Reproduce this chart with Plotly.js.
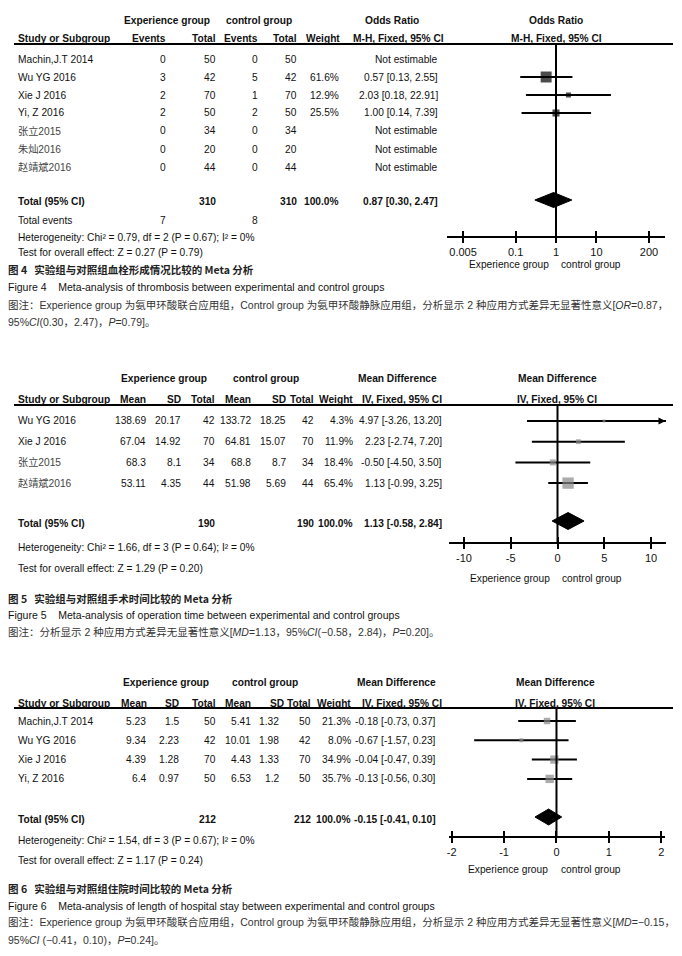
<!DOCTYPE html>
<html><head><meta charset="utf-8">
<script src="https://cdn.plot.ly/plotly-3.0.1.min.js"></script>
<style>html,body{margin:0;padding:0;background:#fff}#c{width:682px;height:956px}</style>
</head><body><div id="c"></div>
<script>
// ---------- Figure 4 data (thrombosis, odds ratio) ----------
const studies4 = ["Machin,J.T 2014","Wu YG 2016","Xie J 2016","Yi, Z 2016","张立2015","朱灿2016","赵靖斌2016"];
const expEvents4 = [0,3,2,2,0,0,0];
const expTotal4  = [50,42,70,50,34,20,44];
const ctlEvents4 = [0,5,1,2,0,0,0];
const ctlTotal4  = [50,42,70,50,34,20,44];
const weight4 = [null,61.6,12.9,25.5,null,null,null];
const est4 = [null,0.57,2.03,1.00,null,null,null];
const lo4  = [null,0.13,0.18,0.14,null,null,null];
const hi4  = [null,2.55,22.91,7.39,null,null,null];
const total4 = {exp:310, ctl:310, w:100.0, est:0.87, lo:0.30, hi:2.47, ev1:7, ev2:8};
const het4 = "Heterogeneity: Chi² = 0.79, df = 2 (P = 0.67); I² = 0%";
const test4 = "Test for overall effect: Z = 0.27 (P = 0.79)";
const ticks4 = [0.005,0.1,1,10,200];
const tickText4 = ["0.005","0.1","1","10","200"];

// ---------- Figure 5 data (operation time, mean difference) ----------
const studies5 = ["Wu YG 2016","Xie J 2016","张立2015","赵靖斌2016"];
const expMean5 = ["138.69","67.04","68.3","53.11"];
const expSD5   = ["20.17","14.92","8.1","4.35"];
const expN5    = [42,70,34,44];
const ctlMean5 = ["133.72","64.81","68.8","51.98"];
const ctlSD5   = ["18.25","15.07","8.7","5.69"];
const ctlN5    = [42,70,34,44];
const weight5 = [4.3,11.9,18.4,65.4];
const est5 = [4.97,2.23,-0.50,1.13];
const lo5  = [-3.26,-2.74,-4.50,-0.99];
const hi5  = [13.20,7.20,3.50,3.25];
const total5 = {exp:190, ctl:190, w:100.0, est:1.13, lo:-0.58, hi:2.84};
const het5 = "Heterogeneity: Chi² = 1.66, df = 3 (P = 0.64); I² = 0%";
const test5 = "Test for overall effect: Z = 1.29 (P = 0.20)";
const ticks5 = [-10,-5,0,5,10];

// ---------- Figure 6 data (hospital stay, mean difference) ----------
const studies6 = ["Machin,J.T 2014","Wu YG 2016","Xie J 2016","Yi, Z 2016"];
const expMean6 = ["5.23","9.34","4.39","6.4"];
const expSD6   = ["1.5","2.23","1.28","0.97"];
const expN6    = [50,42,70,50];
const ctlMean6 = ["5.41","10.01","4.43","6.53"];
const ctlSD6   = ["1.32","1.98","1.33","1.2"];
const ctlN6    = [50,42,70,50];
const weight6 = [21.3,8.0,34.9,35.7];
const est6 = [-0.18,-0.67,-0.04,-0.13];
const lo6  = [-0.73,-1.57,-0.47,-0.56];
const hi6  = [0.37,0.23,0.39,0.30];
const total6 = {exp:212, ctl:212, w:100.0, est:-0.15, lo:-0.41, hi:0.10};
const het6 = "Heterogeneity: Chi² = 1.54, df = 3 (P = 0.67); I² = 0%";
const test6 = "Test for overall effect: Z = 1.17 (P = 0.24)";
const ticks6 = [-2,-1,0,1,2];

// ---------- captions ----------
const cap4 = ["图 4\u00a0\u00a0\u00a0实验组与对照组血栓形成情况比较的 Meta 分析",
  "Figure 4\u00a0\u00a0\u00a0\u00a0Meta-analysis of thrombosis between experimental and control groups",
  "图注：Experience group 为氨甲环酸联合应用组，Control group 为氨甲环酸静脉应用组，分析显示 2 种应用方式差异无显著性意义[<i>OR</i>=0.87，",
  "95%<i>CI</i>(0.30，2.47)，<i>P</i>=0.79]。"];
const cap5 = ["图 5\u00a0\u00a0\u00a0实验组与对照组手术时间比较的 Meta 分析",
  "Figure 5\u00a0\u00a0\u00a0\u00a0Meta-analysis of operation time between experimental and control groups",
  "图注：分析显示 2 种应用方式差异无显著性意义[<i>MD</i>=1.13，95%<i>CI</i>(−0.58，2.84)，<i>P</i>=0.20]。"];
const cap6 = ["图 6\u00a0\u00a0\u00a0实验组与对照组住院时间比较的 Meta 分析",
  "Figure 6\u00a0\u00a0\u00a0\u00a0Meta-analysis of length of hospital stay between experimental and control groups",
  "图注：Experience group 为氨甲环酸联合应用组，Control group 为氨甲环酸静脉应用组，分析显示 2 种应用方式差异无显著性意义[<i>MD</i>=−0.15，",
  "95%<i>CI</i> (−0.41，0.10)，<i>P</i>=0.24]。"];

// ---------- layout helpers ----------
const W = 682, H = 956;
const FT = "Liberation Sans, Arial, Noto Sans CJK SC, sans-serif";
const FS = 10.2;
const FC = "Liberation Sans, Arial, Noto Sans CJK SC, sans-serif";
const ann = [];
function T(text, x, y, anchor, o) {
  o = o || {};
  ann.push({xref:'paper', yref:'paper', x:x/W, y:1-y/H, xanchor:anchor||'left', yanchor:'middle',
    text:String(text), showarrow:false, borderpad:0,
    font:{family:o.family||FT, size:o.size||FS, color:o.color||'#111', weight:o.bold?'bold':'normal'}});
}
const B = {bold:true};
const CJ = {color:'#444'};
const CAPT = {family:"Noto Sans CJK SC, sans-serif", size:10.5, bold:true, color:'#222'};
const shapes = [];
function hline(y){ shapes.push({type:'line', xref:'paper', yref:'paper', x0:14/W, x1:673/W, y0:1-y/H, y1:1-y/H, line:{color:'#000', width:2}}); }
const fmt2 = v => v.toFixed(2);
const ciText = (e,l,h) => fmt2(e)+' ['+fmt2(l)+', '+fmt2(h)+']';
const sizeOf = w => 1.4*Math.sqrt(w);
const isCJK = s => /[\u4e00-\u9fff]/.test(s);

const traces = [];
const layout = {width:W, height:H, margin:{l:0,r:0,t:0,b:0}, paper_bgcolor:'#fff', plot_bgcolor:'rgba(0,0,0,0)',
  showlegend:false, annotations:ann, shapes:shapes};

function axisPair(id, dom, yTop, yBot, xr, tickvals, ticktext, type) {
  const xa = {domain:[dom[0]/W, dom[1]/W], anchor:'y'+id, range:xr, type:type||'linear',
    tickvals:tickvals, ticktext:ticktext, showline:true, linewidth:2, linecolor:'#000',
    ticks:'outside', ticklen:5, tickwidth:2, tickcolor:'#000', showgrid:false, zeroline:false,
    tickfont:{family:FT, size:11, color:'#111'}, fixedrange:true};
  const xo = {overlaying:'x'+id, anchor:'y'+id, range:xr, type:type||'linear', tickvals:tickvals,
    ticks:'inside', ticklen:5, tickwidth:2, tickcolor:'#000', showticklabels:false, showline:false,
    showgrid:false, zeroline:false, fixedrange:true};
  const ya = {domain:[1-yBot/H, 1-yTop/H], range:[yBot, yTop], visible:false, fixedrange:true};
  return [xa, xo, ya];
}

function forest(cfg) {
  const xs=[], ys=[], ep=[], em=[], sz=[];
  cfg.est.forEach((e,i)=>{ if(e===null) return; xs.push(e); ys.push(cfg.rows[i]);
    ep.push(cfg.hi[i]-e); em.push(e-cfg.lo[i]); sz.push(sizeOf(cfg.w[i])); });
  traces.push({type:'scatter', mode:'lines', x:[cfg.nullv,cfg.nullv], y:[cfg.yTop,cfg.yBot],
    xaxis:'x'+cfg.oid, yaxis:'y'+cfg.id, line:{color:'#000', width:2}, hoverinfo:'skip'});
  traces.push({type:'scatter', mode:'markers', x:xs, y:ys, xaxis:'x'+cfg.id, yaxis:'y'+cfg.id,
    marker:{symbol:'square', size:sz, color:cfg.color, line:{width:0}},
    error_x:{type:'data', symmetric:false, array:ep, arrayminus:em, width:0, thickness:cfg.th||1.8, color:'#000'},
    hoverinfo:'skip'});
  const t = cfg.total, yt = cfg.ytot, h = cfg.dh;
  traces.push({type:'scatter', mode:'lines', x:[t.lo,t.est,t.hi,t.est,t.lo], y:[yt,yt-h,yt,yt+h,yt],
    xaxis:'x'+cfg.id, yaxis:'y'+cfg.id, fill:'toself', fillcolor:'#000', line:{color:'#000', width:1},
    hoverinfo:'skip'});
}

// ================= FIGURE 4 =================
{
  const rows = studies4.map((s,i)=>59+i*18);
  T("Experience group",167,21,'center',B); T("control group",259,21,'center',B);
  T("Odds Ratio",392,21,'center',B); T("Odds Ratio",556,21,'center',B);
  T("Study or Subgroup",17,38,'left',B); T("Events",167,38,'right',B); T("Total",217,38,'right',B);
  T("Events",259,38,'right',B); T("Total",298,38,'right',B); T("Weight",341,38,'right',B);
  T("M-H, Fixed, 95% CI",398,38,'center',B); T("M-H, Fixed, 95% CI",556,38,'center',B);
  hline(44);
  studies4.forEach((s,i)=>{
    const y=rows[i];
    T(s,17,y,'left',isCJK(s)?CJ:{}); T(expEvents4[i],167,y,'right'); T(expTotal4[i],217,y,'right');
    T(ctlEvents4[i],259,y,'right'); T(ctlTotal4[i],298,y,'right');
    if(weight4[i]!==null) T(weight4[i].toFixed(1)+'%',340,y,'right');
    T(est4[i]===null?'Not estimable':ciText(est4[i],lo4[i],hi4[i]),439,y,'right');
  });
  const yt=202;
  T("Total (95% CI)",17,yt,'left',B); T(total4.exp,217,yt,'right',B); T(total4.ctl,298,yt,'right',B);
  T(total4.w.toFixed(1)+'%',340,yt,'right',B); T(ciText(total4.est,total4.lo,total4.hi),439,yt,'right',B);
  T("Total events",17,221,'left'); T(total4.ev1,167,221,'right'); T(total4.ev2,259,221,'right');
  T(het4,17,237,'left'); T(test4,17,252,'left');
  T("Experience group",550,265,'right'); T("control group",560,265,'left');
  const [xa,xo,ya] = axisPair('',[447,665],44,236,[Math.log10(0.002),Math.log10(500)],ticks4,tickText4,'log');
  layout.xaxis=xa; layout.xaxis4=Object.assign(xo,{overlaying:'x'}); layout.yaxis=ya;
  layout.xaxis.anchor='y'; layout.xaxis4.anchor='y';
  forest({id:'', oid:'4', rows, est:est4, lo:lo4, hi:hi4, w:weight4, color:'#000', nullv:1,
    yTop:44, yBot:236, total:total4, ytot:yt-2, dh:7.5, th:1.8});
  T(cap4[0],7,269,'left',CAPT);
  T(cap4[1],7,287,'left',{family:FC, size:10.5});
  T(cap4[2],7,305,'left',{family:FC, size:10.5, color:'#333'});
  T(cap4[3],7,322,'left',{family:FC, size:10.5, color:'#333'});
}

// ================= FIGURE 5 =================
{
  const rows = studies5.map((s,i)=>421+i*20.7);
  T("Experience group",164,378,'center',B); T("control group",266,378,'center',B);
  T("Mean Difference",397,378,'center',B); T("Mean Difference",557,378,'center',B);
  T("Study or Subgroup",17,399,'left',B); T("Mean",147,399,'right',B); T("SD",182,399,'right',B);
  T("Total",216,399,'right',B); T("Mean",252,399,'right',B); T("SD",287,399,'right',B);
  T("Total",315,399,'right',B); T("Weight",354,399,'right',B);
  T("IV, Fixed, 95% CI",402,399,'center',B); T("IV, Fixed, 95% CI",557,399,'center',B);
  hline(405);
  studies5.forEach((s,i)=>{
    const y=rows[i];
    T(s,17,y,'left',isCJK(s)?CJ:{}); T(expMean5[i],147,y,'right'); T(expSD5[i],182,y,'right'); T(expN5[i],216,y,'right');
    T(ctlMean5[i],252,y,'right'); T(ctlSD5[i],287,y,'right'); T(ctlN5[i],315,y,'right');
    T(weight5[i].toFixed(1)+'%',354,y,'right'); T(ciText(est5[i],lo5[i],hi5[i]),443,y,'right');
  });
  const yt=523;
  T("Total (95% CI)",17,yt,'left',B); T(total5.exp,216,yt,'right',B); T(total5.ctl,315,yt,'right',B);
  T(total5.w.toFixed(1)+'%',354,yt,'right',B); T(ciText(total5.est,total5.lo,total5.hi),443,yt,'right',B);
  T(het5,17,547,'left'); T(test5,17,568,'left');
  T("Experience group",551,578,'right'); T("control group",561,578,'left');
  const [xa,xo,ya] = axisPair('2',[449,666],405,542,[-11.6,11.6],ticks5,ticks5.map(String));
  layout.xaxis2=xa; layout.xaxis5=Object.assign(xo,{overlaying:'x2'}); layout.yaxis2=ya;
  forest({id:'2', oid:'5', rows, est:est5, lo:lo5, hi:hi5, w:weight5, color:'#888', nullv:0,
    yTop:405, yBot:542, total:total5, ytot:yt-2, dh:8.5, th:2});
  est5.forEach((e,i)=>{ if(hi5[i]>11.6) ann.push({xref:'x2', yref:'y2', x:11.55, y:rows[i], ax:-7, ay:0,
    text:'', showarrow:true, arrowhead:2, arrowsize:1, arrowwidth:1.4, arrowcolor:'#000'}); });
  T(cap5[0],7,598,'left',CAPT);
  T(cap5[1],7,615,'left',{family:FC, size:10.5});
  T(cap5[2],7,632,'left',{family:FC, size:10.5, color:'#333'});
}

// ================= FIGURE 6 =================
{
  const rows = studies6.map((s,i)=>721+i*19.3);
  T("Experience group",166,682,'center',B); T("control group",265,682,'center',B);
  T("Mean Difference",396,682,'center',B); T("Mean Difference",555,682,'center',B);
  T("Study or Subgroup",17,703,'left',B); T("Mean",148,703,'right',B); T("SD",180,703,'right',B);
  T("Total",217,703,'right',B); T("Mean",252,703,'right',B); T("SD",285,703,'right',B);
  T("Total",312,703,'right',B); T("Weight",352,703,'right',B);
  T("IV, Fixed, 95% CI",402,703,'center',B); T("IV, Fixed, 95% CI",555,703,'center',B);
  hline(708);
  studies6.forEach((s,i)=>{
    const y=rows[i];
    T(s,17,y,'left'); T(expMean6[i],147,y,'right'); T(expSD6[i],180,y,'right'); T(expN6[i],217,y,'right');
    T(ctlMean6[i],252,y,'right'); T(ctlSD6[i],280,y,'right'); T(ctlN6[i],312,y,'right');
    T(weight6[i].toFixed(1)+'%',352,y,'right'); T(ciText(est6[i],lo6[i],hi6[i]),437,y,'right');
  });
  const yt=819;
  T("Total (95% CI)",17,yt,'left',B); T(total6.exp,217,yt,'right',B); T(total6.ctl,312,yt,'right',B);
  T(total6.w.toFixed(1)+'%',352,yt,'right',B); T(ciText(total6.est,total6.lo,total6.hi),437,yt,'right',B);
  T(het6,17,840,'left'); T(test6,17,860,'left');
  T("Experience group",549,869,'right'); T("control group",560,869,'left');
  const [xa,xo,ya] = axisPair('3',[449,665],708,836,[-2.05,2.07],ticks6,ticks6.map(String));
  layout.xaxis3=xa; layout.xaxis6=Object.assign(xo,{overlaying:'x3'}); layout.yaxis3=ya;
  forest({id:'3', oid:'6', rows, est:est6, lo:lo6, hi:hi6, w:weight6, color:'#888', nullv:0,
    yTop:708, yBot:836, total:total6, ytot:yt-2, dh:8, th:2});
  T(cap6[0],7,888,'left',CAPT);
  T(cap6[1],7,906,'left',{family:FC, size:10.5});
  T(cap6[2],7,922,'left',{family:FC, size:10.5, color:'#333'});
  T(cap6[3],7,940,'left',{family:FC, size:10.5, color:'#333'});
}

Plotly.newPlot('c', traces, layout, {staticPlot:true, displayModeBar:false});
</script>
</body></html>
